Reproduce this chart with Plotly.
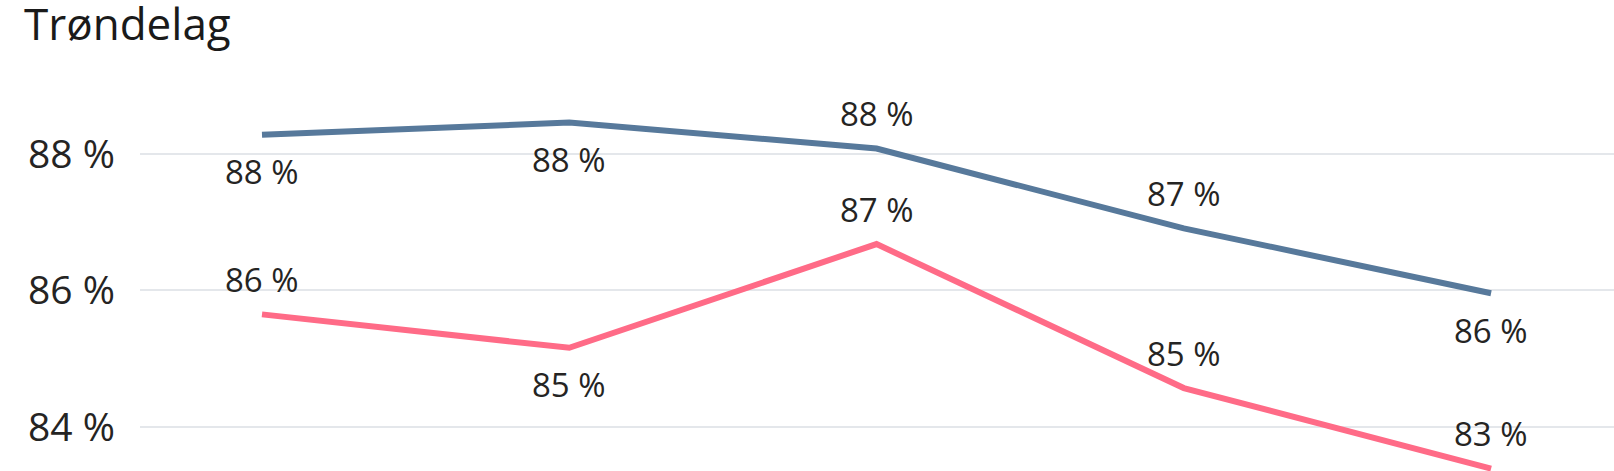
import plotly.graph_objects as go

categories = ["P1", "P2", "P3", "P4", "P5"]
blue_values = [88.28, 88.46, 88.08, 86.91, 85.96]
pink_values = [85.65, 85.16, 86.68, 84.57, 83.39]
blue_label_pos = ["below", "below", "above", "above", "below"]
pink_label_pos = ["above", "below", "above", "above", "above"]
y_ticks = [84, 86, 88]
y_tick_labels = ["84 %", "86 %", "88 %"]
title_text = "Trøndelag"

BLUE = "#57799b"
PINK = "#ff6b87"
TEXT = "#252423"
FONT = "Open Sans"

xs = list(range(len(categories)))

fig = go.Figure()
fig.add_trace(go.Scatter(x=xs, y=blue_values, mode="lines",
                         line=dict(color=BLUE, width=6), hoverinfo="skip"))
fig.add_trace(go.Scatter(x=xs, y=pink_values, mode="lines",
                         line=dict(color=PINK, width=6), hoverinfo="skip"))

annotations = []
for vals, poss in ((blue_values, blue_label_pos), (pink_values, pink_label_pos)):
    for x, v, p in zip(xs, vals, poss):
        annotations.append(dict(
            x=x, y=v, xref="x", yref="y",
            text=f"{round(v):d} %", showarrow=False,
            font=dict(family=FONT, size=33, color=TEXT),
            xanchor="center", yanchor="middle",
            yshift=35 if p == "above" else -37,
        ))

fig.update_layout(
    width=1614, height=471,
    margin=dict(l=140, r=0, t=60, b=0),
    paper_bgcolor="white", plot_bgcolor="white",
    showlegend=False,
    title=dict(text=title_text, x=24 / 1614, xanchor="left", xref="container",
               y=1 - 9 / 471, yanchor="top", yref="container", pad=dict(t=0, l=0),
               font=dict(family=FONT, size=44, color="#1a1a1a")),
    xaxis=dict(range=[-0.397, 4.40], showgrid=False, zeroline=False,
               showticklabels=False, showline=False, fixedrange=True),
    yaxis=dict(range=[83.355, 89.377], tickvals=y_ticks, ticktext=y_tick_labels,
               showgrid=True, gridcolor="#e4e7eb", gridwidth=2, zeroline=False,
               showline=False, ticks="", ticklabelstandoff=24, fixedrange=True,
               tickfont=dict(family=FONT, size=39, color=TEXT)),
    annotations=annotations,
)

fig.write_html(
    "out.html",
    config={"displayModeBar": False, "staticPlot": True},
    post_script="document.body.style.margin='0';document.body.style.overflow='hidden';",
)
